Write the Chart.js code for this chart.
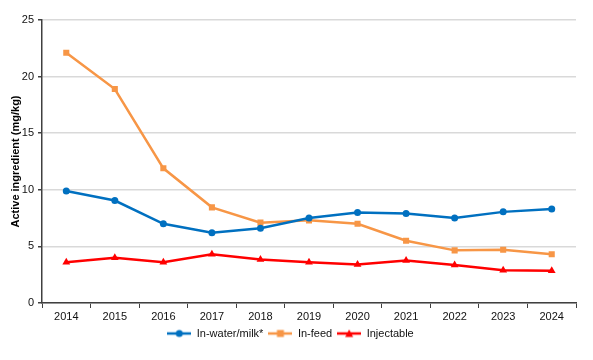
<!DOCTYPE html>
<html>
<head>
<meta charset="utf-8">
<script src="https://cdn.jsdelivr.net/npm/chart.js@4"></script>
<style>
  html, body { margin: 0; padding: 0; background: #fff; }
  #wrap { width: 593px; height: 360px; }
</style>
</head>
<body>
<div id="wrap"><canvas id="chart"></canvas></div>
<script>
// Data
const years = ['2014', '2015', '2016', '2017', '2018', '2019', '2020', '2021', '2022', '2023', '2024'];
const inWater = [9.9, 9.05, 7.0, 6.2, 6.6, 7.5, 8.0, 7.9, 7.5, 8.05, 8.3];
const inFeed = [22.1, 18.9, 11.9, 8.45, 7.1, 7.3, 7.0, 5.5, 4.65, 4.7, 4.3];
const injectable = [3.6, 4.0, 3.6, 4.3, 3.85, 3.6, 3.4, 3.75, 3.35, 2.9, 2.85];

const blue = '#0070C0';
const orange = '#F79646';
const red = '#FF0000';

// small legend swatch: line with marker in the middle
function swatch(color, shape) {
    const c = document.createElement('canvas');
    c.width = 24; c.height = 10;
    const g = c.getContext('2d');
    g.strokeStyle = color; g.fillStyle = color; g.lineWidth = 2.5;
    g.beginPath(); g.moveTo(0, 5); g.lineTo(24, 5); g.stroke();
    g.beginPath();
    if (shape === 'circle') g.arc(12, 5, 3.5, 0, Math.PI * 2);
    else if (shape === 'rect') g.rect(8.5, 1.5, 7, 7);
    else { g.moveTo(12, 1); g.lineTo(16, 8.5); g.lineTo(8, 8.5); g.closePath(); }
    g.fill();
    return c;
}

const font = { family: 'Liberation Sans, Arial, sans-serif', size: 11 };

const ctx = document.getElementById('chart').getContext('2d');
const chart = new Chart(ctx, {
    type: 'line',
    data: {
        labels: years,
        datasets: [
            { label: 'In-water/milk*', data: inWater, borderColor: blue, backgroundColor: blue,
              pointStyle: 'circle', pointRadius: 3.5, _shape: 'circle' },
            { label: 'In-feed', data: inFeed, borderColor: orange, backgroundColor: orange,
              pointStyle: 'rect', pointRadius: 4.3, _shape: 'rect' },
            { label: 'Injectable', data: injectable, borderColor: red, backgroundColor: red,
              pointStyle: 'triangle', pointRadius: 4.5, _shape: 'triangle' }
        ]
    },
    options: {
        responsive: true,
        maintainAspectRatio: false,
        animation: false,
        elements: { line: { borderWidth: 2.5, tension: 0 }, point: { borderWidth: 0 } },
        layout: { padding: { top: 20, right: 17, left: 5, bottom: 11 } },
        scales: {
            x: {
                offset: true,
                grid: { display: true, drawOnChartArea: false, offset: true, tickLength: 5, tickColor: '#404040' },
                border: { color: '#404040', width: 1.5 },
                ticks: { color: '#111', font: font, padding: 2, maxRotation: 0 },
                afterFit: function(scale) { scale.height = 20; }
            },
            y: {
                min: 0,
                max: 25,
                ticks: { stepSize: 5, color: '#111', font: font, padding: 4 },
                grid: { color: '#d9d9d9', lineWidth: 1.5, tickLength: 4, tickColor: '#404040' },
                border: { color: '#404040', width: 1.5 },
                title: { display: true, text: 'Active ingredient (mg/kg)', color: '#000',
                         font: { family: 'Liberation Sans, Arial, sans-serif', size: 11, weight: 'bold' }, padding: 4 },
                afterFit: function(scale) { scale.width = 37; }
            }
        },
        plugins: {
            legend: {
                position: 'bottom',
                labels: {
                    color: '#111',
                    font: font,
                    usePointStyle: true,
                    pointStyleWidth: 24,
                    boxHeight: 10,
                    padding: 5,
                    generateLabels: function(chart) {
                        return chart.data.datasets.map(function(ds, i) {
                            return {
                                text: ds.label,
                                pointStyle: swatch(ds.borderColor, ds._shape),
                                fillStyle: ds.borderColor,
                                strokeStyle: ds.borderColor,
                                lineWidth: 0,
                                fontColor: '#111',
                                datasetIndex: i
                            };
                        });
                    }
                }
            },
            tooltip: { enabled: false }
        }
    }
});
</script>
</body>
</html>
